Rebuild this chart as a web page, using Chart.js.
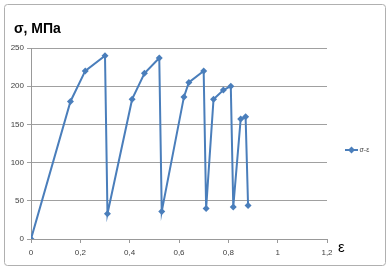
<!DOCTYPE html>
<html>
<head>
<meta charset="utf-8">
<script src="https://cdn.jsdelivr.net/npm/chart.js@4"></script>
<style>
html,body{margin:0;padding:0;background:#fff;}
#wrap{position:relative;width:388px;height:270px;}
canvas{display:block;}
</style>
</head>
<body>
<div id="wrap"><canvas id="c" width="388" height="270"></canvas></div>
<script>
// Data
const strain = [0, 0.16, 0.22, 0.30, 0.31, 0.41, 0.46, 0.52, 0.53, 0.62, 0.64, 0.70, 0.71, 0.74, 0.78, 0.81, 0.82, 0.85, 0.87, 0.88];
const stress = [0, 180, 220, 240, 33, 183, 217, 237, 36, 186, 205, 220, 40, 183, 195, 200, 42, 157, 160, 44];
const seriesName = 'σ-ε';
const titleText = 'σ, МПа';
const xAxisLabel = 'ε';
const xTicks = [0, 0.2, 0.4, 0.6, 0.8, 1, 1.2];
const yTicks = [0, 50, 100, 150, 200, 250];

const lineColor = '#4A7EBB';
const points = strain.map((x, i) => ({x: x, y: stress[i]}));

const decorPlugin = {
  id: 'decor',
  beforeDraw(chart) {
    const ctx = chart.ctx;
    ctx.save();
    ctx.fillStyle = '#fff';
    ctx.fillRect(0, 0, chart.width, chart.height);
    ctx.strokeStyle = '#b0b0b0';
    ctx.lineWidth = 1;
    ctx.beginPath();
    if (ctx.roundRect) ctx.roundRect(4.5, 4.5, 381, 261, 3); else ctx.rect(4.5, 4.5, 381, 261);
    ctx.stroke();
    ctx.restore();
  },
  afterDraw(chart) {
    const ctx = chart.ctx;
    ctx.save();
    // title
    ctx.fillStyle = '#000';
    ctx.font = 'bold 14px "Liberation Sans", Arial, sans-serif';
    ctx.textBaseline = 'alphabetic';
    ctx.textAlign = 'left';
    ctx.fillText(titleText, 14, 33);
    // x axis label
    ctx.font = '15px "Liberation Sans", Arial, sans-serif';
    ctx.fillText(xAxisLabel, 338, 252);
    // legend
    const ds = chart.data.datasets[0];
    const ly = 150;
    ctx.strokeStyle = ds.borderColor;
    ctx.lineWidth = 2;
    ctx.beginPath();
    ctx.moveTo(345, ly);
    ctx.lineTo(358, ly);
    ctx.stroke();
    ctx.fillStyle = ds.borderColor;
    ctx.beginPath();
    ctx.moveTo(351.5, ly - 3.5);
    ctx.lineTo(355, ly);
    ctx.lineTo(351.5, ly + 3.5);
    ctx.lineTo(348, ly);
    ctx.closePath();
    ctx.fill();
    ctx.fillStyle = '#404040';
    ctx.font = '7px "Liberation Sans", Arial, sans-serif';
    ctx.textBaseline = 'middle';
    ctx.fillText(ds.label, 359.5, ly + 0.5);
    ctx.restore();
  }
};

const fmt = v => Number(Number(v).toFixed(1)).toString().replace('.', ',');

new Chart(document.getElementById('c'), {
  type: 'scatter',
  data: {
    datasets: [{
      label: seriesName,
      data: points,
      showLine: true,
      borderColor: lineColor,
      backgroundColor: lineColor,
      borderWidth: 2,
      pointStyle: 'rectRot',
      pointRadius: 3.5,
      pointBorderWidth: 0,
      tension: 0
    }]
  },
  options: {
    responsive: false,
    animation: false,
    devicePixelRatio: 1,
    layout: {padding: {left: 0, top: 48, right: 61, bottom: 0}},
    plugins: {legend: {display: false}, tooltip: {enabled: false}, title: {display: false}},
    scales: {
      x: {
        type: 'linear',
        min: 0, max: 1.2,
        afterBuildTicks: s => { s.ticks = xTicks.map(v => ({value: v})); },
        afterFit: s => { s.height = 31; },
        ticks: {callback: fmt, color: '#404040', font: {size: 8, family: '"Liberation Sans", Arial, sans-serif'}, padding: 5, maxRotation: 0, autoSkip: false},
        grid: {drawOnChartArea: false, drawTicks: true, tickLength: 4, color: '#999'},
        border: {display: true, color: '#999', width: 1}
      },
      y: {
        type: 'linear',
        min: 0, max: 250,
        afterBuildTicks: s => { s.ticks = yTicks.map(v => ({value: v})); },
        afterFit: s => { s.width = 31; },
        ticks: {color: '#404040', font: {size: 8, family: '"Liberation Sans", Arial, sans-serif'}, padding: 3, autoSkip: false},
        grid: {color: '#a0a0a0', lineWidth: 1, drawTicks: true, tickLength: 4},
        border: {display: true, color: '#999', width: 1}
      }
    }
  },
  plugins: [decorPlugin]
});
</script>
</body>
</html>
